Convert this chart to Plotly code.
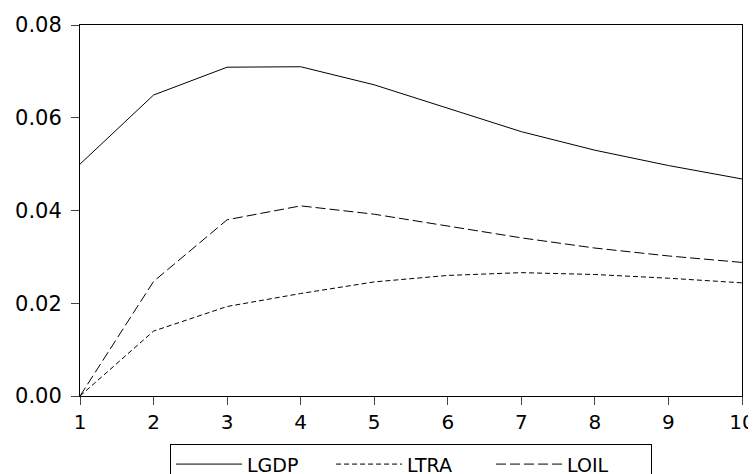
import plotly.graph_objects as go

periods = [1, 2, 3, 4, 5, 6, 7, 8, 9, 10]
lgdp = [0.050, 0.0649, 0.0709, 0.0710, 0.0671, 0.0620, 0.0570, 0.0530, 0.0497, 0.0468]
ltra = [0.000, 0.0140, 0.0193, 0.0221, 0.0246, 0.0260, 0.0266, 0.0262, 0.0254, 0.0244]
loil = [0.000, 0.0247, 0.0380, 0.0410, 0.0392, 0.0366, 0.0341, 0.0319, 0.0302, 0.0288]

fig = go.Figure()
fig.add_trace(go.Scatter(x=periods, y=lgdp, mode="lines", name="LGDP",
                         line=dict(color="black", width=1)))
fig.add_trace(go.Scatter(x=periods, y=ltra, mode="lines", name="LTRA",
                         line=dict(color="black", width=1, dash="5px,3px")))
fig.add_trace(go.Scatter(x=periods, y=loil, mode="lines", name="LOIL",
                         line=dict(color="black", width=1, dash="10px,4px")))

FONT = "DejaVu Sans, Liberation Sans, Arial, sans-serif"

# page has an 8px body margin, so the figure is 8px smaller on each used side
fig.update_layout(
    width=748, height=466,
    margin=dict(l=72, r=14, t=17, b=78, autoexpand=False),
    paper_bgcolor="white", plot_bgcolor="white",
    font=dict(family=FONT, size=20, color="black"),
    showlegend=True,
    legend=dict(orientation="h", x=0.136, y=-0.13, xanchor="left", yanchor="top",
                bordercolor="black", borderwidth=1, itemwidth=66, entrywidth=79,
                font=dict(family=FONT, size=19), tracegroupgap=0, bgcolor="white"),
)
fig.update_xaxes(range=[1, 10], tickvals=periods, ticks="outside", ticklen=8,
                 showline=True, linecolor="black", linewidth=1, mirror=True,
                 showgrid=False, zeroline=False, automargin=False,
                 tickfont=dict(family=FONT, size=20))
fig.update_yaxes(range=[0, 0.08], tickvals=[0, 0.02, 0.04, 0.06, 0.08], tickformat=".2f",
                 ticks="outside", ticklen=8, ticklabelstandoff=5,
                 showline=True, linecolor="black", linewidth=1, mirror=True,
                 showgrid=False, zeroline=False, automargin=False,
                 tickfont=dict(family=FONT, size=21))

fig.write_html("out.html")
